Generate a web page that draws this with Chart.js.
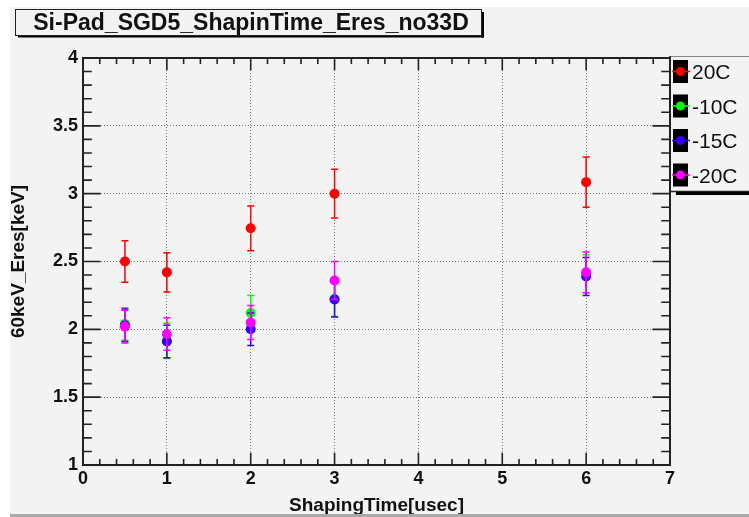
<!DOCTYPE html>
<html>
<head>
<meta charset="utf-8">
<script src="https://cdn.jsdelivr.net/npm/chart.js@4.4.0/dist/chart.umd.min.js"></script>
<style>
  html, body { margin: 0; padding: 0; background: #fff; }
  canvas { display: block; }
</style>
</head>
<body>
<canvas id="grafico" width="749" height="517"></canvas>
<script>
// valores
const shapingTimes = [0.5, 1, 2, 3, 6];
const serieNomes = ['20C', '-10C', '-15C', '-20C'];
const eres20C = [2.50, 2.42, 2.745, 3.00, 3.085];
const erro20C = [0.153, 0.145, 0.165, 0.18, 0.185];
const eresMenos10C = [2.04, 1.915, 2.12, 2.225, 2.41];
const erroMenos10C = [0.12, 0.13, 0.13, 0.13, 0.14];
const eresMenos15C = [2.03, 1.91, 2.00, 2.22, 2.39];
const erroMenos15C = [0.12, 0.12, 0.12, 0.13, 0.14];
const eresMenos20C = [2.02, 1.965, 2.05, 2.36, 2.42];
const erroMenos20C = [0.12, 0.12, 0.125, 0.14, 0.15];
const xTickLabels = ['0', '1', '2', '3', '4', '5', '6', '7'];
const yTickLabels = ['1', '1.5', '2', '2.5', '3', '3.5', '4'];
const titulo = 'Si-Pad_SGD5_ShapinTime_Eres_no33D';

const cores = ['#ff0000', '#00ff00', '#3300ff', '#ff00ff'];
const valores = [eres20C, eresMenos10C, eresMenos15C, eresMenos20C];
const erros = [erro20C, erroMenos10C, erroMenos15C, erroMenos20C];
const fundo = '#f3f3f3';

// estilo ROOT: fundo, moldura, traços internos, barras de erro, título e legenda
const estiloRoot = {
  id: 'estiloRoot',
  beforeDraw(chart) {
    const ctx = chart.ctx;
    ctx.save();
    ctx.fillStyle = '#fff';
    ctx.fillRect(0, 0, chart.width, chart.height);
    ctx.fillStyle = fundo;
    ctx.fillRect(10, 7, chart.width - 10, chart.height - 7);
    ctx.restore();
  },
  beforeDatasetsDraw(chart) {
    const ctx = chart.ctx;
    const {left, right, top, bottom} = chart.chartArea;
    const xs = chart.scales.x, ys = chart.scales.y;
    const tx = 0.03 * (bottom - top), ty = 0.03 * (right - left);
    ctx.save();
    ctx.strokeStyle = '#222';
    ctx.lineWidth = 1.6;
    ctx.beginPath();
    for (let k = 0; k <= 35; k++) {
      const px = xs.getPixelForValue(k * 0.2);
      const l = (k % 5 === 0) ? tx : tx / 2;
      ctx.moveTo(px, bottom); ctx.lineTo(px, bottom - l);
      ctx.moveTo(px, top); ctx.lineTo(px, top + l);
    }
    for (let k = 0; k <= 30; k++) {
      const py = ys.getPixelForValue(1 + k * 0.1);
      const l = (k % 5 === 0) ? ty : ty / 2;
      ctx.moveTo(left, py); ctx.lineTo(left + l, py);
      ctx.moveTo(right, py); ctx.lineTo(right - l, py);
    }
    ctx.stroke();
    ctx.lineWidth = 2;
    ctx.strokeRect(left, top, right - left, bottom - top);
    ctx.restore();
  },
  beforeDatasetDraw(chart, args) {
    const i = args.index;
    const ctx = chart.ctx;
    const xs = chart.scales.x, ys = chart.scales.y;
    ctx.save();
    ctx.strokeStyle = cores[i];
    ctx.lineWidth = 1.5;
    ctx.beginPath();
    shapingTimes.forEach((t, j) => {
      const px = xs.getPixelForValue(t);
      const y1 = ys.getPixelForValue(valores[i][j] + erros[i][j]);
      const y2 = ys.getPixelForValue(valores[i][j] - erros[i][j]);
      ctx.moveTo(px, y1); ctx.lineTo(px, y2);
      ctx.moveTo(px - 3.5, y1); ctx.lineTo(px + 3.5, y1);
      ctx.moveTo(px - 3.5, y2); ctx.lineTo(px + 3.5, y2);
    });
    ctx.stroke();
    ctx.restore();
  },
  afterDraw(chart) {
    const ctx = chart.ctx;
    ctx.save();
    // caixa do título
    ctx.fillStyle = '#000';
    ctx.fillRect(18, 35, 466, 2.5);
    ctx.fillRect(481, 12, 3, 25.5);
    ctx.fillStyle = fundo;
    ctx.fillRect(15, 9, 467, 27);
    ctx.strokeStyle = '#222';
    ctx.lineWidth = 1;
    ctx.strokeRect(15.5, 9.5, 466, 26);
    ctx.fillStyle = '#111';
    ctx.font = 'bold 23px "Liberation Sans", Arial, sans-serif';
    ctx.textAlign = 'center';
    ctx.textBaseline = 'middle';
    ctx.fillText(titulo, 251, 23.5);

    // legenda
    const lx = chart.chartArea.right;
    ctx.fillStyle = fundo;
    ctx.fillRect(lx + 1, 56, chart.width - lx, 136);
    ctx.strokeStyle = '#888';
    ctx.beginPath();
    ctx.moveTo(lx, 56.5); ctx.lineTo(chart.width, 56.5);
    ctx.stroke();
    ctx.strokeStyle = '#222';
    ctx.lineWidth = 1.5;
    ctx.beginPath();
    ctx.moveTo(lx, 56); ctx.lineTo(lx, 192);
    ctx.moveTo(lx, 191.5); ctx.lineTo(chart.width, 191.5);
    ctx.stroke();
    ctx.fillStyle = '#000';
    ctx.fillRect(lx + 6, 192, chart.width - lx, 3);
    ctx.font = '21px "Liberation Sans", Arial, sans-serif';
    ctx.textAlign = 'left';
    serieNomes.forEach((nome, i) => {
      const cy = 71.5 + i * 34.5;
      ctx.fillStyle = '#000';
      ctx.fillRect(lx + 3, cy - 11.5, 15, 23);
      ctx.strokeStyle = cores[i];
      ctx.lineWidth = 1.5;
      ctx.beginPath();
      ctx.moveTo(lx + 2, cy); ctx.lineTo(lx + 20, cy);
      ctx.stroke();
      ctx.fillStyle = cores[i];
      ctx.beginPath();
      ctx.arc(lx + 10.5, cy, 4.5, 0, Math.PI * 2);
      ctx.fill();
      ctx.fillStyle = '#111';
      ctx.fillText(nome, lx + 22, cy + 2);
    });

    // faixa cinza embaixo
    ctx.fillStyle = '#a9a9a9';
    ctx.fillRect(10, 514, chart.width - 10, 3);
    ctx.restore();
  }
};

const fonteEixo = { family: '"Liberation Sans", Arial, sans-serif', size: 18, weight: 'bold' };
const fonteTitulo = { family: '"Liberation Sans", Arial, sans-serif', size: 19, weight: 'bold' };

let grafico = new Chart(document.getElementById('grafico').getContext('2d'), {
  type: 'scatter',
  data: {
    datasets: serieNomes.map((nome, i) => ({
      label: nome,
      data: shapingTimes.map((t, j) => ({ x: t, y: valores[i][j] })),
      backgroundColor: cores[i],
      borderColor: cores[i],
      pointRadius: 5,
      pointBorderWidth: 0,
      order: serieNomes.length - i // última série por cima, como no ROOT
    }))
  },
  options: {
    responsive: false,
    animation: false,
    layout: { padding: { top: 58, right: 79, left: 0, bottom: 0 } },
    plugins: { legend: { display: false }, title: { display: false }, tooltip: { enabled: false } },
    scales: {
      x: {
        type: 'linear',
        min: 0, max: 7,
        afterFit: (s) => { s.height = 52; },
        ticks: { stepSize: 1, padding: 3, color: '#111', font: fonteEixo,
          callback: (v, i) => xTickLabels[i] },
        grid: { drawTicks: false, color: '#777', lineWidth: 1 },
        border: { display: false, dash: [1, 2] },
        title: { display: true, text: 'ShapingTime[usec]', color: '#111', font: fonteTitulo,
          padding: { top: 0, bottom: 0 } }
      },
      y: {
        type: 'linear',
        min: 1, max: 4,
        afterFit: (s) => { s.width = 83; },
        ticks: { stepSize: 0.5, padding: 5, color: '#111', font: fonteEixo,
          callback: (v, i) => yTickLabels[i] },
        grid: { drawTicks: false, color: '#777', lineWidth: 1 },
        border: { display: false, dash: [1, 2] },
        title: { display: true, text: '60keV_Eres[keV]', color: '#111', font: fonteTitulo,
          padding: { top: 7, bottom: 0 } }
      }
    }
  },
  plugins: [estiloRoot]
});
</script>
</body>
</html>
